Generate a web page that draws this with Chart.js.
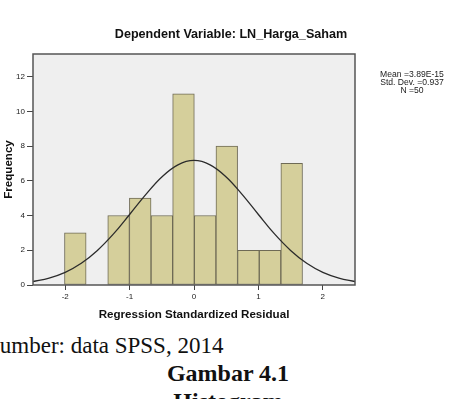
<!DOCTYPE html>
<html>
<head>
<meta charset="utf-8">
<script src="https://cdn.jsdelivr.net/npm/chart.js"></script>
<style>
  body { margin: 0; background: #fff; width: 449px; height: 399px; overflow: hidden; position: relative; }
  #chart { position: absolute; left: 0; top: 0; }
  .txt { position: absolute; white-space: nowrap; }
  #title { left: 0; width: 462px; top: 26px; text-align: center; font: bold 12.6px Arial, "Liberation Sans", sans-serif; line-height: 16px; color: #111; }
  #stats { left: 371px; width: 82px; top: 70px; text-align: center; font: 8.6px Arial, "Liberation Sans", sans-serif; line-height: 8px; color: #222; }
  #source { left: -13px; top: 334px; font: 23px "Times New Roman", "Liberation Serif", serif; line-height: 23px; color: #111; }
  .cap { left: 0; width: 456px; text-align: center; font: bold 24px "Times New Roman", "Liberation Serif", serif; line-height: 24px; color: #111; }
</style>
</head>
<body>
<canvas id="chart" width="449" height="330"></canvas>
<div class="txt" id="title">Dependent Variable: LN_Harga_Saham</div>
<div class="txt" id="stats">Mean =3.89E-15<br>Std. Dev. =0.937<br>N =50</div>
<div class="txt" id="source">Sumber: data SPSS, 2014</div>
<div class="txt cap" style="top:361px">Gambar 4.1</div>
<div class="txt cap" style="top:389px">Histogram</div>
<script>
// histogram bins (centres) and counts
const binCenters = [-1.843, -1.507, -1.171, -0.835, -0.499, -0.163, 0.173, 0.509, 0.845, 1.181, 1.517];
const frequencies = [3, 0, 4, 5, 4, 11, 4, 8, 2, 2, 7];

// normal curve
const curveX = [-2.5, -2.25, -2, -1.75, -1.5, -1.25, -1, -0.75, -0.5, -0.25, 0, 0.25, 0.5, 0.75, 1, 1.25, 1.5, 1.75, 2, 2.25, 2.5];
const curveY = [0.20, 0.40, 0.73, 1.25, 1.99, 2.94, 4.06, 5.20, 6.22, 6.92, 7.17, 6.92, 6.22, 5.20, 4.06, 2.94, 1.99, 1.25, 0.73, 0.40, 0.20];

const xTicks = [-2, -1, 0, 1, 2];
const yTicks = [0, 2, 4, 6, 8, 10, 12];

const plotBox = {
  id: 'plotBox',
  beforeDatasetsDraw(chart) {
    const a = chart.chartArea, ctx = chart.ctx;
    ctx.save();
    ctx.fillStyle = '#efefef';
    ctx.fillRect(a.left, a.top, a.right - a.left, a.bottom - a.top);
    ctx.restore();
  },
  afterDatasetsDraw(chart) {
    const a = chart.ctx, c = chart.chartArea;
    a.save();
    a.strokeStyle = '#555';
    a.lineWidth = 1.5;
    a.strokeRect(c.left, c.top, c.right - c.left, c.bottom - c.top);
    a.restore();
  }
};

new Chart(document.getElementById('chart'), {
  type: 'bar',
  data: {
    datasets: [
      {
        type: 'line',
        data: curveX.map((x, i) => ({ x: x, y: curveY[i] })),
        borderColor: '#2b2b2b',
        borderWidth: 1.3,
        pointRadius: 0,
        tension: 0.4,
        fill: false
      },
      {
        data: binCenters.map((x, i) => ({ x: x, y: frequencies[i] })),
        backgroundColor: '#d5cf9b',
        borderColor: '#6e6a55',
        borderWidth: 1,
        borderSkipped: false,
        barPercentage: 1,
        categoryPercentage: 1
      }
    ]
  },
  options: {
    responsive: false,
    animation: false,
    layout: { padding: { top: 54, right: 94, left: 0, bottom: 0 } },
    plugins: { legend: { display: false }, tooltip: { enabled: false } },
    scales: {
      x: {
        type: 'linear',
        min: -2.5,
        max: 2.5,
        offset: false,
        afterBuildTicks: s => { s.ticks = xTicks.map(v => ({ value: v })); },
        afterFit: s => { s.height = 45; },
        grid: { offset: false, drawOnChartArea: false, drawTicks: true, tickLength: 5, tickColor: '#444' },
        border: { display: false },
        ticks: { font: { family: 'Arial', size: 8 }, color: '#222', padding: 2, maxRotation: 0 },
        title: {
          display: true,
          text: 'Regression Standardized Residual',
          font: { family: 'Arial', size: 11.6, weight: 'bold' },
          color: '#111',
          padding: { top: 0, bottom: 8 }
        }
      },
      y: {
        min: 0,
        max: 13.3,
        afterBuildTicks: s => { s.ticks = yTicks.map(v => ({ value: v })); },
        afterFit: s => { s.width = 33; },
        grid: { drawOnChartArea: false, drawTicks: true, tickLength: 6, tickColor: '#444' },
        border: { display: false },
        ticks: { font: { family: 'Arial', size: 8 }, color: '#222', padding: 2 },
        title: {
          display: true,
          text: 'Frequency',
          font: { family: 'Arial', size: 11.6, weight: 'bold' },
          color: '#111',
          padding: { top: 2, bottom: 0 }
        }
      }
    }
  },
  plugins: [plotBox]
});
</script>
</body>
</html>
